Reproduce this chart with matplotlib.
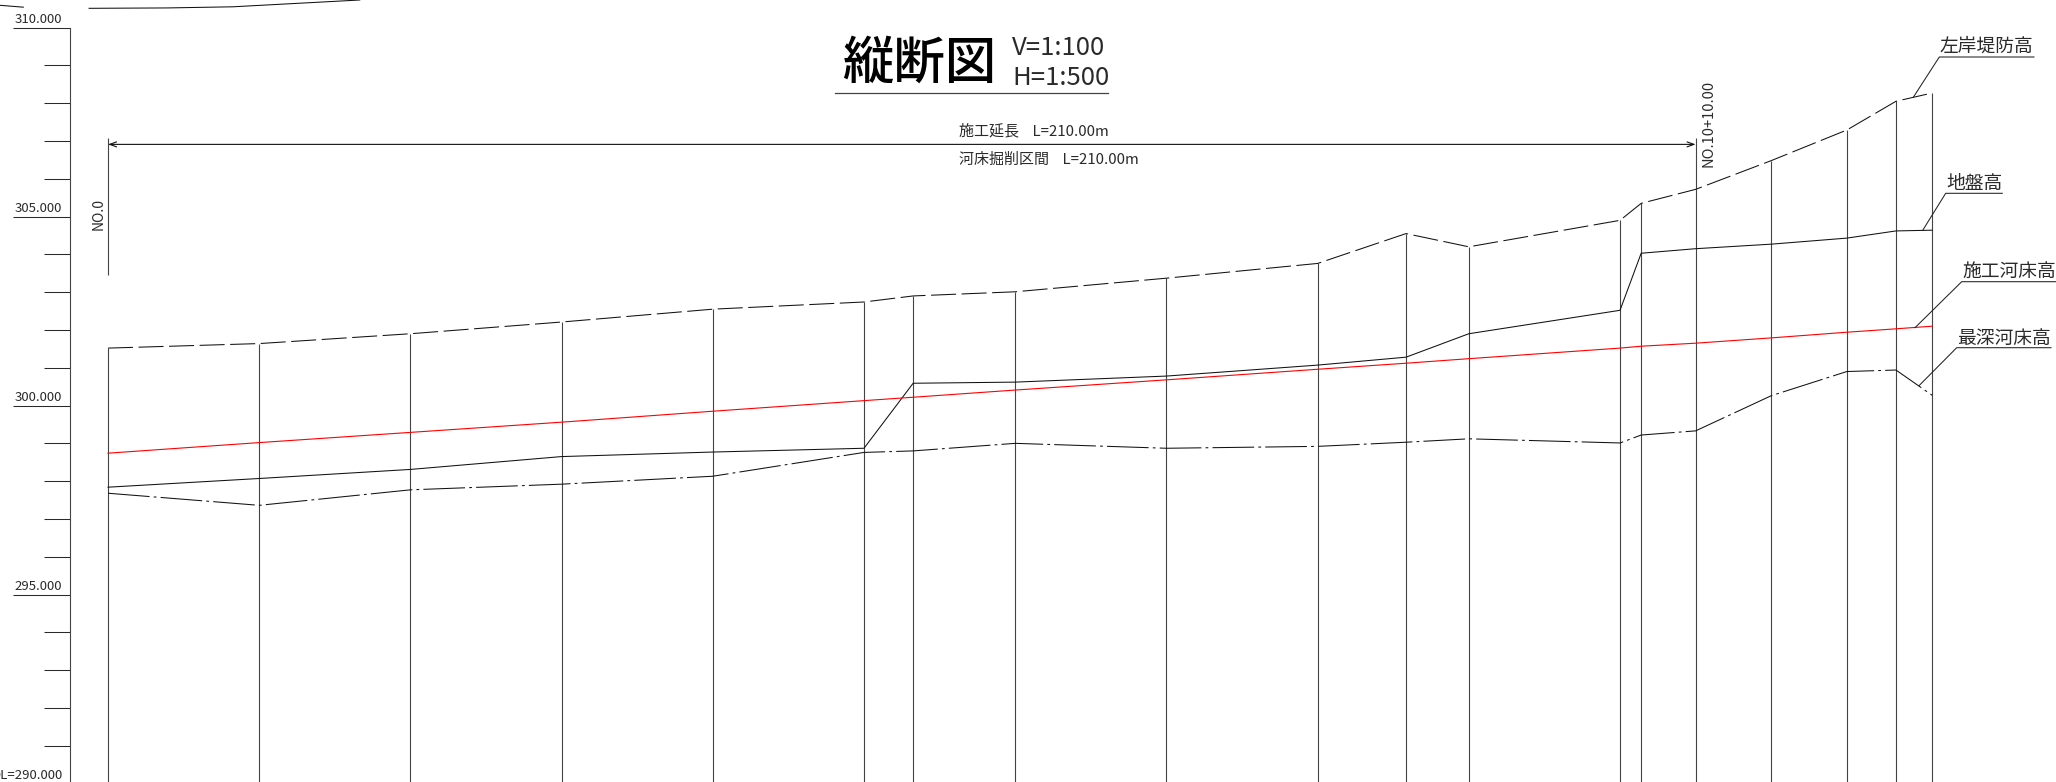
import matplotlib
matplotlib.use("Agg")
import matplotlib.pyplot as plt
from matplotlib.transforms import Affine2D

plt.rcParams['font.family'] = ['Noto Sans CJK JP', 'DejaVu Sans']
plt.rcParams['lines.scale_dashes'] = False

# 測点 (m)
station = [0, 20, 40, 60, 80, 100, 106.5, 120, 140, 160, 171.7, 180, 200, 202.8,
           210, 220, 230, 236.5, 241.3]
# 左岸堤防高
bank = [301.52, 301.64, 301.90, 302.21, 302.55, 302.74, 302.90, 303.01, 303.37, 303.76,
        304.55, 304.20, 304.90, 305.35, 305.72, 306.48, 307.29, 308.05, 308.27]
# 地盤高
ground = [297.84, 298.07, 298.31, 298.65, 298.77, 298.87, 300.59, 300.62, 300.78, 301.07,
          301.28, 301.90, 302.52, 304.03, 304.15, 304.27, 304.43, 304.62, 304.64]
# 施工河床高
design = [298.74, 299.02, 299.29, 299.56, 299.85, 300.13, 300.22, 300.41, 300.68, 300.96,
          301.12, 301.24, 301.52, 301.57, 301.65, 301.79, 301.94, 302.03, 302.10]
# 最深河床高
deepest = [297.68, 297.36, 297.77, 297.92, 298.13, 298.76, 298.80, 299.00, 298.87, 298.92,
           299.03, 299.12, 299.01, 299.22, 299.33, 300.26, 300.90, 300.94, 300.27]

# 上端で切れている線
top_x = [-14.3, -11.2, None, -2.5, 7.8, 16.5, 33.3]
top_y = [310.59, 310.54, None, 310.51, 310.52, 310.55, 310.73]

major_ticks = [310, 305, 300, 295, 290]
major_labels = ['310.000', '305.000', '300.000', '295.000', 'DL=290.000']
minor_ticks = [309, 308, 307, 306, 304, 303, 302, 301, 299, 298, 297, 296, 294, 293, 292, 291]

INK = '#2a2a2a'

fig = plt.figure(figsize=(20.56, 7.82), dpi=100)
ax = fig.add_axes([0, 0, 1, 1])
ax.set_xlim(-14.286, 257.67)
ax.set_ylim(290.04, 310.73)

# 画面座標(ピクセル, 上から)
px = Affine2D().scale(1, -1).translate(0, 782)

for s in ['top', 'right', 'bottom']:
    ax.spines[s].set_visible(False)
ax.spines['left'].set_position(('data', -5))
ax.spines['left'].set_bounds(290, 310)
ax.spines['left'].set_linewidth(0.8)
ax.spines['left'].set_color('#444444')
ax.patch.set_visible(False)
ax.set_xticks([])
ax.set_yticks(major_ticks[:-1])
ax.set_yticklabels([])
ax.set_yticks(minor_ticks, minor=True)
ax.tick_params(axis='y', which='major', direction='out', length=41, width=0.75, color=INK)
ax.tick_params(axis='y', which='minor', direction='out', length=19, width=0.75, color=INK)

for v, lab in zip(major_ticks, major_labels):
    ax.annotate(lab, xy=(-5, v), xytext=(-5.6, 3.2), textcoords='offset points',
                ha='right', va='baseline', fontsize=9.5, color=INK, annotation_clip=False)

# 測点の縦線
ax.vlines(station, 289, bank, color='#444444', lw=0.8)
ax.vlines([0], 303.46, 307.08, color='#444444', lw=0.8)
ax.vlines([210], bank[14], 307.08, color='#444444', lw=0.8)

ax.plot(station, ground, color='#111111', lw=0.75)
ax.plot(station, design, color='#ff0000', lw=0.8)
ax.plot(station, bank, color='#111111', lw=0.75, dashes=(18, 4))
ax.plot(station, deepest, color='#111111', lw=0.75, dashes=(30, 3, 2, 3))
ax.plot([x if x is not None else float('nan') for x in top_x],
        [y if y is not None else float('nan') for y in top_y], color='#111111', lw=0.75)

# 寸法線
ax.annotate('', xy=(0, 306.91), xytext=(210, 306.91),
            arrowprops=dict(arrowstyle='<->,head_length=0.5,head_width=0.18', lw=0.8,
                            color='#111111', shrinkA=0, shrinkB=0, mutation_scale=10))

ax.text(99, 230, 'NO.0', rotation=90, fontsize=10, ha='center', va='bottom', color=INK, transform=px)
ax.text(1709, 167, 'NO.10+10.00', rotation=90, fontsize=10.5, ha='center', va='bottom', color=INK,
        transform=px)

# 表題
ax.text(919, 64, '縦断図', fontsize=37, fontweight='medium', ha='center', va='center',
        color='black', transform=px)
ax.text(1012, 55, 'V=1:100', fontsize=18.5, ha='left', va='baseline', color=INK, transform=px)
ax.text(1012, 85, 'H=1:500', fontsize=18.5, ha='left', va='baseline', color=INK, transform=px)
ax.plot([835, 1108], [93.3, 93.3], color='#444444', lw=0.9, transform=px)

ax.text(959, 131, '施工延長    L=210.00m', fontsize=10.8, ha='left', va='center', color=INK, transform=px)
ax.text(959, 160, '河床掘削区間    L=210.00m', fontsize=10.8, ha='left', va='center', color=INK, transform=px)

# 引出線
leaders = [
    ('左岸堤防高', 1986.7, 46.7, 1939.3, 2034, 57, 1913.3, 97.3),
    ('地盤高', 1974, 184, 1945.7, 2002.3, 193.3, 1922.7, 230.3),
    ('施工河床高', 2008.8, 271.3, 1961.7, 2056, 281.7, 1915, 327.7),
    ('最深河床高', 2004, 338.3, 1956.7, 2051, 347.7, 1919, 385.7),
]
for name, tx, ty, x0, x1, uy, ex, ey in leaders:
    ax.text(tx, ty, name, fontsize=13.5, ha='center', va='center', color=INK, transform=px)
    ax.plot([ex, x0, x1], [ey, uy, uy], color='#222222', lw=0.75, transform=px)

ax.set_xlim(-14.286, 257.67)
ax.set_ylim(290.04, 310.73)
fig.savefig('out.png', dpi=100)
